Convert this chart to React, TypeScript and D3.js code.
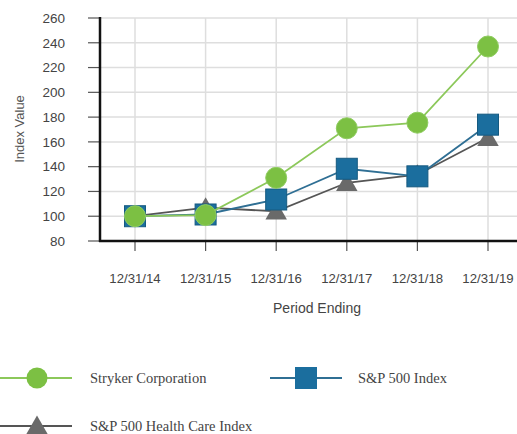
import React from "react";
import * as d3 from "d3";

const categories = ["12/31/14", "12/31/15", "12/31/16", "12/31/17", "12/31/18", "12/31/19"];
const stryker = [100, 100.9, 131, 171, 175.5, 237];
const sp500 = [100, 101.4, 113.5, 138.3, 132.2, 173.9];
const healthCare = [100, 106.9, 104, 127, 133.5, 163.3];
const yTicks = [80, 100, 120, 140, 160, 180, 200, 220, 240, 260];

const W = 517;
const H = 434;
const green = "#7cc043";
const greenLine = "#8cc85a";
const blue = "#1b6e9e";
const blueLine = "#2f6f94";
const grey = "#6a6a6a";
const greyLine = "#555";

export default function App() {
  const x = d3.scalePoint<string>().domain(categories).range([135, 488]);
  const y = d3.scaleLinear().domain([80, 260]).range([241, 18]);
  const line = d3
    .line<number>()
    .x((_, i) => x(categories[i]) as number)
    .y((d) => y(d));
  const tri = d3.symbol(d3.symbolTriangle, 200)();
  const font = "Arial, 'Liberation Sans', sans-serif";
  const serif = "'Liberation Serif', 'Times New Roman', serif";

  return (
    <svg width={W} height={H} style={{ position: "absolute", left: 0, top: 0, background: "#fff" }}>
      {/* gridlines */}
      {yTicks.map((t) => (
        <line key={"h" + t} x1={100} x2={W} y1={y(t)} y2={y(t)} stroke="#dedede" strokeWidth={1.5} />
      ))}
      {categories.map((c) => (
        <line key={"v" + c} x1={x(c)} x2={x(c)} y1={y(260)} y2={y(80)} stroke="#dedede" strokeWidth={1.5} />
      ))}
      {/* y ticks */}
      {yTicks.map((t) => (
        <g key={"yt" + t}>
          <line x1={88} x2={100} y1={y(t)} y2={y(t)} stroke="#555" strokeWidth={1.2} />
          <text x={65} y={y(t)} dy="0.35em" textAnchor="end" fontFamily={font} fontSize={13.5} fill="#444">
            {t}
          </text>
        </g>
      ))}
      {/* x ticks */}
      {categories.map((c) => (
        <g key={"xt" + c}>
          <line x1={x(c)} x2={x(c)} y1={y(80)} y2={251} stroke="#555" strokeWidth={1.2} />
          <text x={x(c)} y={283} textAnchor="middle" fontFamily={font} fontSize={13.2} fill="#444">
            {c}
          </text>
        </g>
      ))}
      {/* axes */}
      <line x1={100} x2={100} y1={17} y2={y(80) + 1} stroke="#111" strokeWidth={2.5} />
      <line x1={99} x2={W} y1={y(80)} y2={y(80)} stroke="#111" strokeWidth={2.5} />
      <text x={317} y={313} textAnchor="middle" fontFamily={font} fontSize={14} fill="#444">
        Period Ending
      </text>
      <text
        transform={`translate(24,129) rotate(-90)`}
        textAnchor="middle"
        fontFamily={font}
        fontSize={13}
        fill="#555"
      >
        Index Value
      </text>
      {/* series */}
      <path d={line(healthCare) as string} fill="none" stroke={greyLine} strokeWidth={1.8} />
      {healthCare.map((v, i) => (
        <path key={"hc" + i} d={tri as string} transform={`translate(${x(categories[i])},${y(v) + 2})`} fill={grey} />
      ))}
      <path d={line(sp500) as string} fill="none" stroke={blueLine} strokeWidth={1.8} />
      {sp500.map((v, i) => (
        <rect
          key={"sp" + i}
          x={(x(categories[i]) as number) - 10.5}
          y={y(v) - 10.5}
          width={21}
          height={21}
          fill={blue}
          stroke="#165a80"
          strokeWidth={1}
        />
      ))}
      <path d={line(stryker) as string} fill="none" stroke={greenLine} strokeWidth={1.8} />
      {stryker.map((v, i) => (
        <circle key={"st" + i} cx={x(categories[i])} cy={y(v)} r={10.5} fill={green} stroke="#8fcc60" strokeWidth={1} />
      ))}
      {/* legend */}
      <line x1={0} x2={72} y1={378} y2={378} stroke={greenLine} strokeWidth={2} />
      <circle cx={37} cy={378} r={10.5} fill={green} />
      <text x={90} y={383} fontFamily={serif} fontSize={14.5} fill="#444">
        Stryker Corporation
      </text>
      <line x1={270} x2={342} y1={378} y2={378} stroke={blueLine} strokeWidth={2} />
      <rect x={295} y={367} width={22} height={22} fill={blue} />
      <text x={358} y={383} fontFamily={serif} fontSize={14.5} fill="#444">
        S&amp;P 500 Index
      </text>
      <line x1={0} x2={72} y1={426} y2={426} stroke={greyLine} strokeWidth={2} />
      <path d={tri as string} transform={`translate(37,428)`} fill={grey} />
      <text x={90} y={431} fontFamily={serif} fontSize={14.5} fill="#444">
        S&amp;P 500 Health Care Index
      </text>
    </svg>
  );
}
